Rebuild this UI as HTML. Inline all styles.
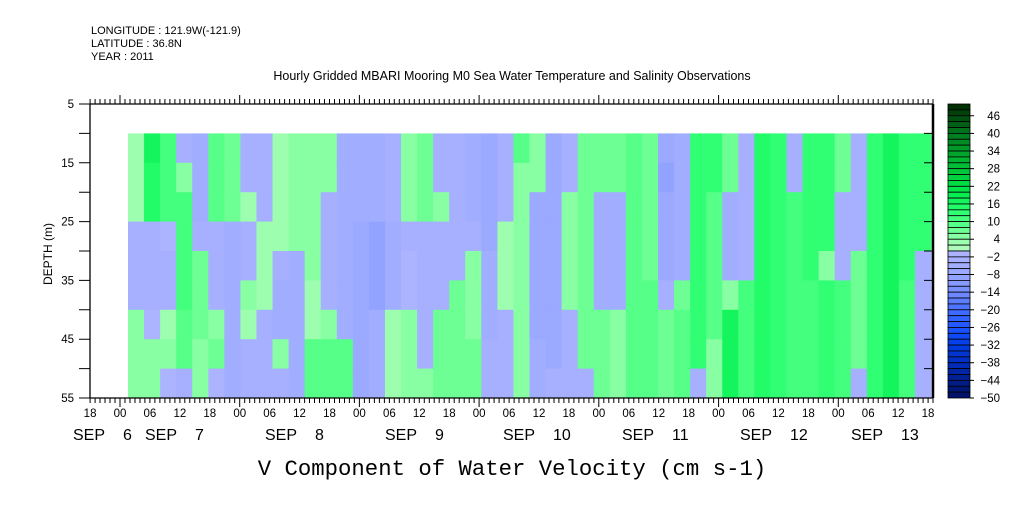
<!DOCTYPE html>
<html><head><meta charset="utf-8"><style>
body{margin:0;background:#fff;width:1009px;height:504px;overflow:hidden}
svg text{font-family:"Liberation Sans",sans-serif;fill:#000}
</style></head><body>
<svg id="chart" width="1009" height="504" viewBox="0 0 1009 504" xmlns="http://www.w3.org/2000/svg">
<g font-size="11">
<text x="91" y="34">LONGITUDE : 121.9W(-121.9)</text>
<text x="91" y="47">LATITUDE : 36.8N</text>
<text x="91" y="60">YEAR : 2011</text>
</g>
<text x="512" y="80" font-size="12.5" text-anchor="middle">Hourly Gridded MBARI Mooring M0 Sea Water Temperature and Salinity Observations</text>
<g id="cells"></g>
<g id="axes" stroke="#000" fill="none"></g>
<g id="labels"></g>
<g id="cbar"></g>
<text transform="translate(52,254) rotate(-90)" font-size="12" text-anchor="middle">DEPTH (m)</text>
<text x="512" y="475" font-size="22.3" text-anchor="middle" style="font-family:'Liberation Mono',monospace">V Component of Water Velocity (cm s-1)</text>
</svg>
<script>
// depth rows (top of each 5 m band), m
const depths = [10,15,20,25,30,35,40,45,50];
// column start times, hours after the first "00" tick
const colStart = 1.6, colHours = 3.22;
// values (cm/s) per column, rows top->bottom
const values = [
[3,3,3,-3,-3,-3,4,4,4],
[16,14,14,-3,-4,-4,-2,4,4],
[10,10,10,-2,-4,-4,3,4,-2],
[-3,4,10,10,10,10,8,8,-3],
[-5,-5,-5,-3,6,6,6,4,4],
[8,8,8,-3,-4,-4,4,6,-2],
[6,6,6,-5,-5,-5,-5,-5,-5],
[-4,-4,3,-4,-4,4,3,-4,-3],
[-3,-3,-3,3,3,3,-4,-4,-4],
[3,3,3,3,-3,-6,-6,4,-3],
[4,4,4,4,-6,-6,-6,-6,-6],
[4,4,4,4,4,3,3,8,8],
[4,4,-4,-4,-4,-4,4,8,8],
[-6,-6,-6,-6,-6,-6,-6,8,8],
[-6,-6,-6,-8,-8,-8,-8,-8,-8],
[-6,-6,-6,-10,-10,-10,-6,-6,-6],
[-3,-3,-3,-6,-6,-6,3,3,3],
[4,4,4,-3,-2,-2,4,4,4],
[6,6,6,-3,-3,-3,-3,-3,4],
[-3,-3,4,-3,-3,-3,6,6,6],
[-3,-3,-4,-4,-4,6,6,6,6],
[-6,-6,-6,-4,4,4,4,6,6],
[-8,-8,-8,-8,-6,-6,-6,-4,-4],
[-4,-4,-4,3,3,3,-3,-3,-3],
[8,4,4,4,4,4,4,4,4],
[4,4,-8,-8,-8,-8,-8,-5,-5],
[-8,-8,-8,-8,-8,-8,-8,-8,-4],
[-4,-4,4,4,4,4,-4,-4,-4],
[6,6,6,6,6,6,6,6,-3],
[6,6,-5,-5,-5,-5,6,6,6],
[6,6,-5,-5,-5,-5,4,4,4],
[8,8,8,8,8,8,8,8,8],
[6,6,6,6,6,8,8,8,8],
[-8,-10,-8,-8,-8,-4,6,6,6],
[-5,-5,-5,-5,-5,6,8,8,8],
[12,12,12,12,12,12,12,12,-3],
[12,12,8,8,8,8,8,4,4],
[6,6,-5,-5,-5,4,16,16,16],
[-4,-4,-4,-4,-4,10,10,10,10],
[14,14,14,14,14,14,14,14,14],
[12,12,12,12,12,12,12,12,12],
[-4,-4,10,10,10,10,10,10,10],
[12,12,12,12,12,10,10,10,10],
[12,12,12,12,4,12,12,12,12],
[6,6,-4,-4,-4,10,10,10,10],
[-3,-3,-3,-3,6,6,6,6,-3],
[12,12,12,12,12,12,12,12,12],
[16,16,16,16,16,16,16,16,16],
[12,12,12,12,12,10,10,10,10],
[12,12,12,12,-3,-3,-3,-4,-4]
];
const hourLabels = ["18","00","06","12","18","00","06","12","18","00","06","12","18","00","06","12","18","00","06","12","18","00","06","12","18","00","06","12","18"];
const dayLabels = ["6","7","8","9","10","11","12","13"];
const yTicks = [5,15,25,35,45,55];
const cbarLevels = [46,40,34,28,22,16,10,4,-2,-8,-14,-20,-26,-32,-38,-44,-50];

const NS="http://www.w3.org/2000/svg";
const X0=120, PXH=4.988, YT=104, YB=398, XL=90, XR=933;
const xs = h => X0 + h*PXH;
const ys = d => YT + (d-5)*(YB-YT)/50;
function mk(tag, attrs, parent){const e=document.createElementNS(NS,tag);for(const k in attrs)e.setAttribute(k,attrs[k]);parent.appendChild(e);return e;}
const anchors=[[50,[0,40,0]],[40,[0,120,30]],[30,[0,185,50]],[20,[0,235,75]],[14,[40,255,110]],[8,[95,255,140]],[4,[150,255,170]],[0.01,[182,250,192]],[-0.01,[175,182,255]],[-8,[152,167,255]],[-14,[115,140,255]],[-20,[70,110,255]],[-26,[30,85,255]],[-32,[0,60,230]],[-38,[0,45,190]],[-44,[0,30,140]],[-50,[0,15,100]]];
function color(v){
  const b=Math.max(-50,Math.min(48,Math.floor(v/2)*2))+1;
  for(let i=0;i<anchors.length-1;i++){const [a,ca]=anchors[i],[c,cb]=anchors[i+1];
    if(b<=a&&b>=c){const t=(a-b)/(a-c);return `rgb(${ca.map((q,j)=>Math.round(q+(cb[j]-q)*t)).join(',')})`;}}
  return "rgb(0,15,100)";
}
const cells=document.getElementById('cells');
values.forEach((col,k)=>{
  const t0=colStart+k*colHours, x0=xs(t0), x1=Math.min(XR,xs(t0+colHours));
  col.forEach((v,r)=>{
    const rc=mk('rect',{x:x0,y:ys(depths[r]),width:x1-x0+0.5,height:ys(depths[r]+5)-ys(depths[r])+0.5,fill:color(v)},cells);
    
    
  });
});
const ax=document.getElementById('axes');
mk('path',{d:`M${XL},${YT}V${YB}H${XR}M${XL},${YT}H${XR}`,"stroke-width":1.3},ax);
mk('path',{d:`M${XR},${YT}V${YB}`,"stroke-width":2.5},ax);
let d="";
for(let h=-6;xs(h)<=XR+0.5;h++){const x=xs(h).toFixed(1);const maj=((h%24)+24)%24===0;
  d+=`M${x},${YB}v${maj?9:5}M${x},${YT}v-${maj?9:5}`;}
for(let dd=5;dd<=55;dd+=5){const y=ys(dd).toFixed(1);d+=`M${XL},${y}h-11M${XR},${y}h-9`;}
mk('path',{d:d,"stroke-width":1},ax);
const lb=document.getElementById('labels');
hourLabels.forEach((s,i)=>{const x=xs(-6+i*6);if(x>XR+1)return;
  const t=mk('text',{x:x,y:417,"font-size":11.5,"text-anchor":"middle"},lb);t.textContent=s;
  });
const dayX=[73,145,265,385,503,622,740,851];
dayLabels.forEach((s,i)=>{
  const a=mk('text',{x:dayX[i],y:440,"font-size":16},lb);a.textContent="SEP";
  
  const b=mk('text',{x:dayX[i]+50,y:440,"font-size":16},lb);b.textContent=s;
  });
yTicks.forEach(v=>{const t=mk('text',{x:74,y:ys(v)+4,"font-size":11.5,"text-anchor":"end"},lb);t.textContent=v;
  });
const cb=document.getElementById('cbar');
const bh=(YB-YT)/50;
for(let i=0;i<50;i++){const v=49-i*2;
  const r=mk('rect',{x:948,y:YT+i*bh,width:22,height:bh,fill:color(v),stroke:"#000","stroke-width":0.8},cb);
  }
cbarLevels.forEach(v=>{const y=YT+(50-v)/2*bh;
  mk('path',{d:`M970,${y}h4`,stroke:"#000"},cb);
  const t=mk('text',{x:1000,y:y+4,"font-size":11.5,"text-anchor":"end"},cb);t.textContent=(v<0?"\u2212"+(-v):v);
  });
</script>
</body></html>
